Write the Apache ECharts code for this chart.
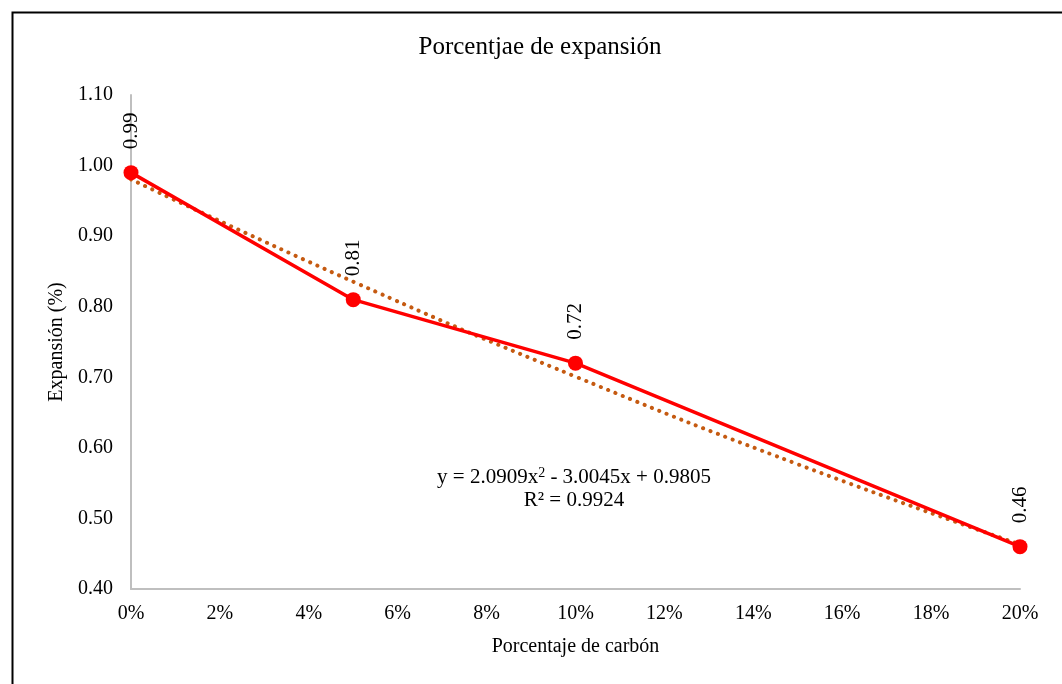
<!DOCTYPE html>
<html><head><meta charset="utf-8">
<script src="https://cdn.jsdelivr.net/npm/echarts@6/dist/echarts.min.js"></script>
<style>html,body{margin:0;padding:0;background:#fff}#c{width:1062px;height:684px}</style>
</head><body><div id="c"></div>
<script>
const carbon = [0, 0.05, 0.10, 0.20];
const expansion = [0.99, 0.81, 0.72, 0.46];
const trendX = [0, 0.05, 0.10, 0.15, 0.20];
const trendY = [0.9805, 0.8355, 0.7010, 0.5768, 0.4632];
const titleText = 'Porcentjae de expansión';
const xName = 'Porcentaje de carbón';
const yName = 'Expansión (%)';
const FONT = '"Liberation Serif", "Times New Roman", serif';

const chart = echarts.init(document.getElementById('c'));
chart.setOption({
  backgroundColor: '#fff',
  animation: false,
  grid: { left: 131, right: 42, top: 95, bottom: 95 },
  xAxis: {
    type: 'value', min: 0, max: 0.2, interval: 0.02,
    name: xName, nameLocation: 'middle', nameGap: 48,
    nameTextStyle: { fontFamily: FONT, fontSize: 20, color: '#000' },
    axisLine: { show: true, lineStyle: { color: '#bfbfbf', width: 2 } },
    axisTick: { show: false }, splitLine: { show: false },
    axisLabel: { fontFamily: FONT, fontSize: 20, color: '#000', margin: 15, formatter: v => Math.round(v * 100) + '%' }
  },
  yAxis: {
    type: 'value', min: 0.4, max: 1.1, interval: 0.1,
    name: yName, nameLocation: 'middle', nameGap: 62, nameRotate: 90,
    nameTextStyle: { fontFamily: FONT, fontSize: 20, color: '#000' },
    axisLine: { show: true, lineStyle: { color: '#bfbfbf', width: 2 } },
    axisTick: { show: false }, splitLine: { show: false },
    axisLabel: { fontFamily: FONT, fontSize: 20, color: '#000', margin: 18, formatter: v => v.toFixed(2) }
  },
  series: [
    {
      type: 'line', data: trendX.map((x, i) => [x, trendY[i]]), smooth: true, symbol: 'none', z: 3,
      lineStyle: { color: '#c55a11', width: 4, type: [0.1, 7.8], cap: 'round' }
    },
    {
      type: 'line', data: carbon.map((x, i) => [x, expansion[i]]), symbol: 'circle', symbolSize: 15, z: 4,
      itemStyle: { color: '#ff0000' },
      lineStyle: { color: '#ff0000', width: 3.5 },
      label: {
        show: true, position: 'top', distance: 16, rotate: 90, align: 'left', verticalAlign: 'middle',
        fontFamily: FONT, fontSize: 21, color: '#000',
        formatter: p => p.value[1].toFixed(2)
      }
    }
  ],
  graphic: [
    { type: 'rect', left: 10, top: 10, shape: { width: 1070, height: 700 }, style: { fill: 'none', stroke: '#000', lineWidth: 2 }, silent: true },
    { type: 'text', x: 540, y: 47, style: { text: titleText, font: '25px ' + FONT, fill: '#000', textAlign: 'center', textVerticalAlign: 'middle' } },
    { type: 'text', x: 574, y: 477, style: {
        text: '{a|y = 2.0909x}{s|2}{a| - 3.0045x + 0.9805}', textAlign: 'center', textVerticalAlign: 'middle',
        rich: { a: { fontFamily: FONT, fontSize: 21, color: '#000' }, s: { fontFamily: FONT, fontSize: 14, color: '#000', verticalAlign: 'top', padding: [0, 0, 8, 0] } }
      } },
    { type: 'text', x: 574, y: 500, style: { text: 'R² = 0.9924', font: '21px ' + FONT, fill: '#000', textAlign: 'center', textVerticalAlign: 'middle' } }
  ]
});
</script></body></html>
